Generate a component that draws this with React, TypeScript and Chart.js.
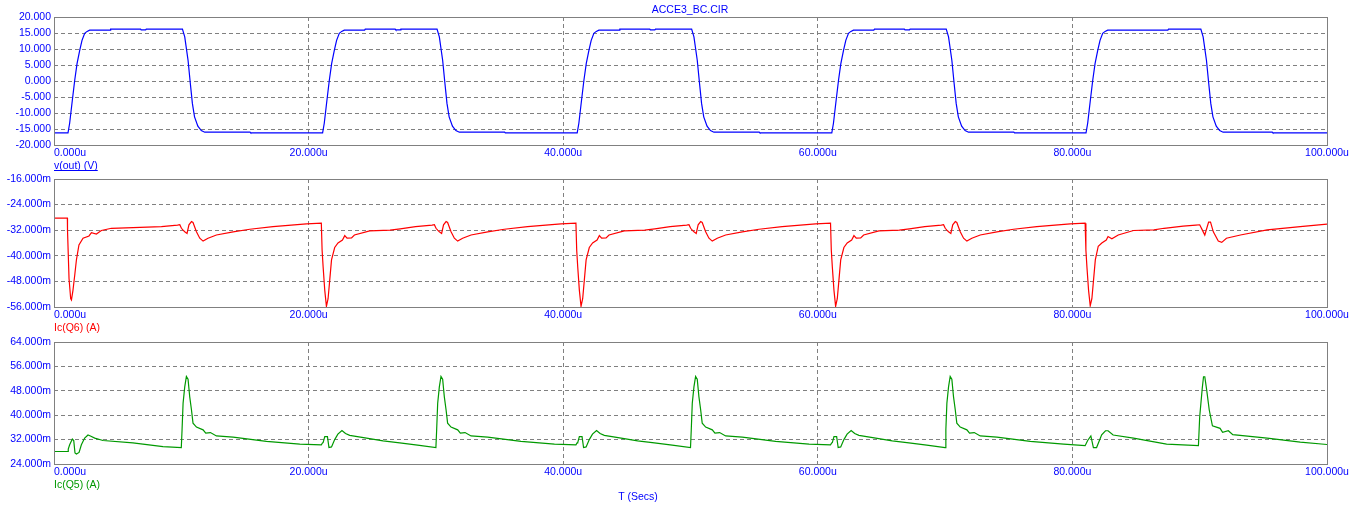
import React, { useEffect, useRef } from "react";
import { Chart, registerables } from "chart.js";

Chart.register(...registerables);

// ---------- data (time in microseconds) ----------
const timeTicks = [0, 20, 40, 60, 80, 100];
const vOutTicks = [20, 15, 10, 5, 0, -5, -10, -15, -20];
const icQ6Ticks = [-16, -24, -32, -40, -48, -56];
const icQ5Ticks = [64, 56, 48, 40, 32, 24];

// v(out) in volts
const vOutPoints: [number, number][] = [
  [0, -16.2], [1.1, -16.2], [1.23, -13.2], [1.44, -6.0], [1.63, 0.3], [1.81, 5.4], [2.02, 9.6], [2.2, 12.7], [2.41, 14.9], [2.6, 15.5], [2.8, 15.9], [4.4, 15.9], [4.45, 16.2], [6.8, 16.2], [6.85, 15.95], [7.2, 15.95], [7.25, 16.2], [10.09, 16.2], [10.27, 13.8], [10.53, 6.5], [10.71, -0.8], [10.87, -7.0], [11.04, -11.2], [11.3, -14.1], [11.57, -15.5], [11.84, -16.0], [15.4, -16.0], [15.45, -16.2],
  [21.1, -16.2], [21.23, -13.2], [21.44, -6.0], [21.63, 0.3], [21.81, 5.4], [22.02, 9.6], [22.2, 12.7], [22.41, 14.9], [22.6, 15.5], [22.8, 15.9], [24.4, 15.9], [24.45, 16.2], [26.8, 16.2], [26.85, 15.95], [27.2, 15.95], [27.25, 16.2], [30.09, 16.2], [30.27, 13.8], [30.53, 6.5], [30.71, -0.8], [30.87, -7.0], [31.04, -11.2], [31.3, -14.1], [31.57, -15.5], [31.84, -16.0], [35.4, -16.0], [35.45, -16.2],
  [41.1, -16.2], [41.23, -13.2], [41.44, -6.0], [41.63, 0.3], [41.81, 5.4], [42.02, 9.6], [42.2, 12.7], [42.41, 14.9], [42.6, 15.5], [42.8, 15.9], [44.4, 15.9], [44.45, 16.2], [46.8, 16.2], [46.85, 15.95], [47.2, 15.95], [47.25, 16.2], [50.09, 16.2], [50.27, 13.8], [50.53, 6.5], [50.71, -0.8], [50.87, -7.0], [51.04, -11.2], [51.3, -14.1], [51.57, -15.5], [51.84, -16.0], [55.4, -16.0], [55.45, -16.2],
  [61.1, -16.2], [61.23, -13.2], [61.44, -6.0], [61.63, 0.3], [61.81, 5.4], [62.02, 9.6], [62.2, 12.7], [62.41, 14.9], [62.6, 15.5], [62.8, 15.9], [64.4, 15.9], [64.45, 16.2], [66.8, 16.2], [66.85, 15.95], [67.2, 15.95], [67.25, 16.2], [70.09, 16.2], [70.27, 13.8], [70.53, 6.5], [70.71, -0.8], [70.87, -7.0], [71.04, -11.2], [71.3, -14.1], [71.57, -15.5], [71.84, -16.0], [75.4, -16.0], [75.45, -16.2],
  [81.07, -16.2], [81.2, -13.2], [81.41, -6.0], [81.6, 0.3], [81.78, 5.4], [81.99, 9.6], [82.17, 12.7], [82.38, 14.9], [82.57, 15.5], [82.77, 15.9], [87.5, 15.9], [87.55, 16.2], [90.09, 16.2], [90.27, 13.8], [90.53, 6.5], [90.71, -0.8], [90.87, -7.0], [91.04, -11.2], [91.3, -14.1], [91.57, -15.5], [91.84, -16.0], [95.7, -16.0], [95.75, -16.2], [100, -16.2],
];

// Ic(Q6) in milliamps
const icQ6Points: [number, number][] = [
  [0, -28.2], [1.05, -28.2], [1.06, -31.9], [1.18, -47.1], [1.31, -53.4], [1.37, -53.8], [1.49, -50.8], [1.63, -46.0], [1.76, -41.3], [1.96, -36.6], [2.28, -34.5], [2.75, -33.8], [2.94, -32.8], [3.33, -33.2], [3.72, -32.1], [4.51, -31.4], [6.21, -31.2], [8.44, -30.9], [9.7, -30.4], [9.88, -30.3], [10.01, -31.4], [10.14, -32.0], [10.27, -32.5], [10.45, -33.0], [10.6, -30.3], [10.8, -29.3], [10.92, -29.6], [11.19, -32.5], [11.45, -34.5], [11.71, -35.4], [12.1, -34.5], [12.76, -33.5], [14.07, -32.5], [15.38, -31.7], [17.2, -30.9], [19.83, -30.0],
  [21.0, -29.8], [21.06, -38.2], [21.14, -43.4], [21.27, -50.8], [21.4, -55.8], [21.53, -53.4], [21.66, -47.6], [21.8, -41.3], [22.05, -37.4], [22.31, -36.0], [22.66, -35.1], [22.84, -33.7], [23.02, -34.5], [23.37, -34.4], [23.6, -33.5], [24.8, -32.2], [26.4, -32.0], [27.2, -31.6], [28.4, -30.9], [29.7, -30.4], [29.88, -30.3], [30.01, -31.4], [30.14, -32.0], [30.27, -32.5], [30.45, -33.0], [30.6, -30.3], [30.8, -29.3], [30.92, -29.6], [31.19, -32.5], [31.45, -34.5], [31.71, -35.4], [32.1, -34.5], [32.76, -33.5], [34.07, -32.5], [35.38, -31.7], [37.2, -30.9], [39.83, -30.0],
  [41.0, -29.8], [41.06, -38.2], [41.14, -43.4], [41.27, -50.8], [41.4, -55.8], [41.53, -53.4], [41.66, -47.6], [41.8, -41.3], [42.05, -37.4], [42.31, -36.0], [42.66, -35.1], [42.84, -33.7], [43.02, -34.5], [43.37, -34.4], [43.6, -33.5], [44.8, -32.2], [46.4, -32.0], [47.2, -31.6], [48.4, -30.9], [49.7, -30.4], [49.88, -30.3], [50.01, -31.4], [50.14, -32.0], [50.27, -32.5], [50.45, -33.0], [50.6, -30.3], [50.8, -29.3], [50.92, -29.6], [51.19, -32.5], [51.45, -34.5], [51.71, -35.4], [52.1, -34.5], [52.76, -33.5], [54.07, -32.5], [55.38, -31.7], [57.2, -30.9], [59.83, -30.0],
  [61.0, -29.8], [61.06, -38.2], [61.14, -43.4], [61.27, -50.8], [61.4, -55.8], [61.53, -53.4], [61.66, -47.6], [61.8, -41.3], [62.05, -37.4], [62.31, -36.0], [62.66, -35.1], [62.84, -33.7], [63.02, -34.5], [63.37, -34.4], [63.6, -33.5], [64.8, -32.2], [66.4, -32.0], [67.2, -31.6], [68.4, -30.9], [69.7, -30.4], [69.88, -30.3], [70.01, -31.4], [70.14, -32.0], [70.27, -32.5], [70.45, -33.0], [70.6, -30.3], [70.8, -29.3], [70.92, -29.6], [71.19, -32.5], [71.45, -34.5], [71.71, -35.4], [72.1, -34.5], [72.76, -33.5], [74.07, -32.5], [75.38, -31.7], [77.2, -30.9], [79.83, -30.0],
  [81.0, -29.8], [81.06, -38.2], [81.14, -43.4], [81.27, -50.8], [81.4, -55.6], [81.53, -53.4], [81.66, -47.6], [81.8, -41.3], [82.03, -37.0], [82.31, -36.0], [82.66, -35.1], [82.8, -34.0], [83.1, -34.7], [83.6, -33.5], [84.8, -32.1], [86.4, -31.9], [87.2, -31.4], [88.7, -30.7], [89.7, -30.4], [90.0, -30.3], [90.2, -31.9], [90.4, -33.5], [90.7, -29.5], [90.85, -29.5], [91.07, -32.5], [91.46, -35.4], [91.73, -35.8], [92.1, -34.5], [93.2, -33.5], [95.3, -31.9], [97.9, -30.9], [100, -30.1],
];

// Ic(Q5) in milliamps
const icQ5Points: [number, number][] = [
  [0, 28.1], [1.1, 28.1], [1.12, 28.9], [1.23, 30.3], [1.44, 32.2], [1.55, 31.7], [1.65, 27.6], [1.76, 27.3], [1.97, 27.8], [2.15, 30.3], [2.41, 32.5], [2.67, 33.5], [2.86, 33.2], [3.2, 32.5], [3.85, 31.7], [6.2, 30.9], [8.56, 29.7], [10.0, 29.4], [10.06, 35.2], [10.14, 43.9], [10.27, 49.3], [10.4, 52.7], [10.53, 51.8], [10.66, 46.1], [10.8, 41.7], [10.92, 37.4], [11.19, 36.1], [11.71, 35.2], [11.92, 34.1], [12.29, 34.3], [12.76, 33.2], [14.07, 32.8], [16.69, 31.4], [19.31, 30.5],
  [21.0, 30.3], [21.09, 30.9], [21.14, 31.0], [21.27, 33.0], [21.48, 33.0], [21.6, 29.4], [21.8, 29.6], [22.05, 32.0], [22.3, 33.8], [22.62, 35.0], [22.9, 34.0], [23.23, 33.4], [24.55, 32.5], [25.85, 31.6], [27.16, 30.9], [28.56, 30.2], [30.0, 29.4], [30.06, 35.2], [30.14, 43.9], [30.27, 49.3], [30.4, 52.7], [30.53, 51.8], [30.66, 46.1], [30.8, 41.7], [30.92, 37.4], [31.19, 36.1], [31.71, 35.2], [31.92, 34.1], [32.29, 34.3], [32.76, 33.2], [34.07, 32.8], [36.69, 31.4], [39.31, 30.5],
  [41.0, 30.3], [41.09, 30.9], [41.14, 31.0], [41.27, 33.0], [41.48, 33.0], [41.6, 29.4], [41.8, 29.6], [42.05, 32.0], [42.3, 33.8], [42.62, 35.0], [42.9, 34.0], [43.23, 33.4], [44.55, 32.5], [45.85, 31.6], [47.16, 30.9], [48.56, 30.2], [50.0, 29.4], [50.06, 35.2], [50.14, 43.9], [50.27, 49.3], [50.4, 52.7], [50.53, 51.8], [50.66, 46.1], [50.8, 41.7], [50.92, 37.4], [51.19, 36.1], [51.71, 35.2], [51.92, 34.1], [52.29, 34.3], [52.76, 33.2], [54.07, 32.8], [56.69, 31.4], [59.31, 30.5],
  [61.0, 30.3], [61.09, 30.9], [61.14, 31.0], [61.27, 33.0], [61.48, 33.0], [61.6, 29.4], [61.8, 29.6], [62.05, 32.0], [62.3, 33.8], [62.62, 35.0], [62.9, 34.0], [63.23, 33.4], [64.55, 32.5], [65.85, 31.6], [67.16, 30.9], [68.56, 30.2], [70.0, 29.4], [70.06, 35.2], [70.14, 43.9], [70.27, 49.3], [70.4, 52.7], [70.53, 51.8], [70.66, 46.1], [70.8, 41.7], [70.92, 37.4], [71.19, 36.1], [71.71, 35.2], [71.92, 34.1], [72.29, 34.3], [72.76, 33.2], [74.07, 32.8], [76.69, 31.4], [79.31, 30.5],
  [81.0, 30.0], [81.2, 31.7], [81.45, 33.2], [81.65, 29.4], [81.9, 29.4], [82.3, 33.6], [82.6, 34.9], [82.8, 34.9], [83.2, 33.5], [84.8, 32.5], [87.4, 30.5], [89.9, 30.0], [90.0, 39.5], [90.2, 48.8], [90.3, 52.6], [90.4, 52.6], [90.55, 48.2], [90.75, 41.7], [91.0, 36.5], [91.6, 35.7], [91.8, 34.4], [92.25, 34.9], [92.6, 33.6], [95.3, 32.5], [97.9, 31.2], [100, 30.4],
];

// ---------- layout / style ----------
const W = 1353;
const H = 515;
const PLOT_LEFT = 54;
const PLOT_RIGHT = 1327;
const GRID = "#808080";
const TEXT_BLUE = "#0000FF";
const FONT = '10.5px "Liberation Sans", Arial, sans-serif';

type Panel = {
  key: string;
  points: [number, number][];
  color: string;
  top: number;
  bottom: number;
  min: number;
  max: number;
  step: number;
  ticks: number[];
  suffix: string;
  label: string;
  underline: boolean;
  extra?: (ctx: CanvasRenderingContext2D) => void;
};

const panels: Panel[] = [
  {
    key: "vout", points: vOutPoints, color: "#0000FF", top: 17, bottom: 145,
    min: -20, max: 20, step: 5, ticks: vOutTicks, suffix: "", label: "v(out) (V)", underline: true,
    extra: (ctx) => {
      ctx.fillStyle = TEXT_BLUE;
      ctx.textAlign = "center";
      ctx.textBaseline = "middle";
      ctx.fillText("ACCE3_BC.CIR", 690, 10);
    },
  },
  {
    key: "icq6", points: icQ6Points, color: "#FF0000", top: 179, bottom: 307,
    min: -56, max: -16, step: 8, ticks: icQ6Ticks, suffix: "m", label: "Ic(Q6) (A)", underline: false,
  },
  {
    key: "icq5", points: icQ5Points, color: "#009900", top: 342, bottom: 464,
    min: 24, max: 64, step: 8, ticks: icQ5Ticks, suffix: "m", label: "Ic(Q5) (A)", underline: false,
    extra: (ctx) => {
      ctx.fillStyle = TEXT_BLUE;
      ctx.textAlign = "center";
      ctx.textBaseline = "middle";
      ctx.fillText("T (Secs)", 638, 497.5);
    },
  },
];

function decorPlugin(p: Panel) {
  return {
    id: "decor_" + p.key,
    afterDraw(chart: any) {
      const { ctx, chartArea: a, scales } = chart;
      const xs = scales.x;
      const ys = scales.y;
      ctx.save();
      ctx.strokeStyle = GRID;
      ctx.lineWidth = 1;
      ctx.setLineDash([]);
      ctx.strokeRect(Math.round(a.left) + 0.5, Math.round(a.top) + 0.5, Math.round(a.right - a.left), Math.round(a.bottom - a.top));

      ctx.font = FONT;
      ctx.fillStyle = TEXT_BLUE;
      ctx.textAlign = "right";
      ctx.textBaseline = "middle";
      p.ticks.forEach((v) => {
        ctx.fillText(v.toFixed(3) + p.suffix, a.left - 3, ys.getPixelForValue(v));
      });

      timeTicks.forEach((t, i) => {
        ctx.textAlign = i === 0 ? "left" : "center";
        ctx.fillText(t.toFixed(3) + "u", xs.getPixelForValue(t), a.bottom + 8.5);
      });

      ctx.textAlign = "left";
      ctx.fillStyle = p.color;
      const ly = a.bottom + 21;
      ctx.fillText(p.label, a.left, ly);
      if (p.underline) {
        const w = ctx.measureText(p.label).width;
        ctx.strokeStyle = p.color;
        ctx.beginPath();
        ctx.moveTo(a.left, Math.round(ly + 4) + 0.5);
        ctx.lineTo(a.left + w, Math.round(ly + 4) + 0.5);
        ctx.stroke();
      }
      if (p.extra) p.extra(ctx);
      ctx.restore();
    },
  };
}

function PanelChart({ p }: { p: Panel }) {
  const ref = useRef<HTMLCanvasElement | null>(null);
  useEffect(() => {
    if (!ref.current) return;
    const chart = new Chart(ref.current, {
      type: "line",
      data: {
        datasets: [
          {
            data: p.points.map(([x, y]) => ({ x, y })),
            borderColor: p.color,
            borderWidth: 1.2,
            pointRadius: 0,
            tension: 0,
            fill: false,
          },
        ],
      },
      options: {
        responsive: false,
        animation: false,
        events: [],
        layout: { padding: { left: PLOT_LEFT, right: W - PLOT_RIGHT, top: p.top, bottom: H - p.bottom } },
        plugins: { legend: { display: false }, tooltip: { enabled: false }, title: { display: false } },
        scales: {
          x: {
            type: "linear",
            min: 0,
            max: 100,
            ticks: { display: false, stepSize: 20 },
            grid: { color: GRID, lineWidth: 1, drawTicks: false },
            border: { display: false, dash: [4, 3] },
          },
          y: {
            type: "linear",
            min: p.min,
            max: p.max,
            ticks: { display: false, stepSize: p.step },
            grid: { color: GRID, lineWidth: 1, drawTicks: false },
            border: { display: false, dash: [4, 3] },
          },
        },
      } as any,
      plugins: [decorPlugin(p)],
    });
    return () => chart.destroy();
  }, [p]);
  return (
    <canvas
      ref={ref}
      width={W}
      height={H}
      style={{ position: "absolute", left: 0, top: 0, width: W, height: H }}
    />
  );
}

export default function App() {
  return (
    <div style={{ position: "absolute", left: 0, top: 0, width: W, height: H, background: "#ffffff", overflow: "hidden" }}>
      {panels.map((p) => (
        <PanelChart key={p.key} p={p} />
      ))}
    </div>
  );
}
